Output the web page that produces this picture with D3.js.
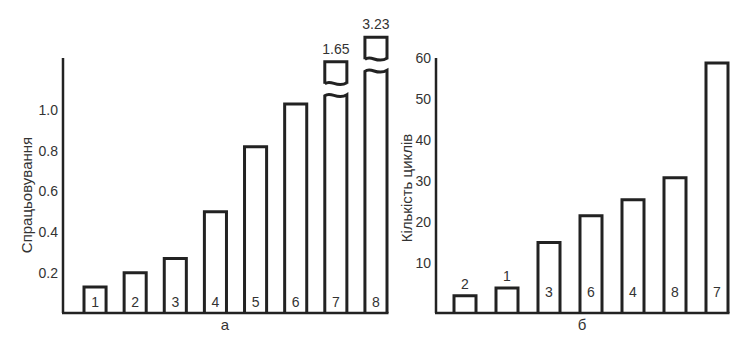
<!DOCTYPE html>
<html>
<head>
<meta charset="utf-8">
<script src="https://cdn.jsdelivr.net/npm/d3@7"></script>
<style>
    body { margin: 0; background: #fff; }
    text { font-family: "Liberation Sans", Arial, sans-serif; fill: #333; }
</style>
</head>
<body>
<svg id="chart" width="751" height="353"></svg>
<script>
"use strict";

// data, chart а
const barsA = ["1", "2", "3", "4", "5", "6", "7", "8"];
const valuesA = [0.13, 0.2, 0.27, 0.5, 0.82, 1.03, 1.65, 3.23];
const breakA = [null, null, null, null, null, null, 1.07, 1.19];   // where broken bars are cut
const ticksA = [0.2, 0.4, 0.6, 0.8, 1.0];

// data, chart б
const barsB = ["2", "1", "3", "6", "4", "8", "7"];
const valuesB = [2, 3.9, 15, 21.5, 25.4, 30.8, 58.8];
const ticksB = [10, 20, 30, 40, 50, 60];



// consts
const baseline = 313,
      axisTop = 58,
      stroke = "#222";

let svg = d3.select("#chart");



// wavy cut line
function wave(x0, x1, y) {
    let w = x1 - x0;
    return `M${x0},${y} C${x0 + w*0.3},${y - 5} ${x0 + w*0.55},${y + 5} ${x1},${y - 1}`;
}



// one panel
function panel(cfg) {
    let g = svg.append("g");

    // scales
    let scaleX = d3.scaleBand()
    .domain(cfg.bars.map((d, i) => i))
    .range(cfg.xRange)
    .paddingInner(cfg.padding)
    .paddingOuter(0);

    let scaleY = d3.scaleLinear()
    .domain(cfg.yDomain)
    .range(cfg.yRange);

    // y axis line
    g.append("line")
    .attr("x1", cfg.axisX).attr("x2", cfg.axisX)
    .attr("y1", axisTop).attr("y2", baseline)
    .attr("stroke", stroke).attr("stroke-width", 2.5);

    // x axis line
    g.append("line")
    .attr("x1", cfg.axisX - 1).attr("x2", cfg.xRange[1] + 1.5)
    .attr("y1", baseline).attr("y2", baseline)
    .attr("stroke", stroke).attr("stroke-width", 2.5);

    // tick labels
    g.selectAll("text.tick")
    .data(cfg.ticks)
    .enter()
    .append("text")
    .attr("class", "tick")
    .attr("x", cfg.axisX - 5)
    .attr("y", d => scaleY(d))
    .attr("dy", "0.35em")
    .attr("text-anchor", "end")
    .attr("font-size", 14)
    .text(d => cfg.format(d));

    // y label
    g.append("text")
    .attr("transform", `translate(${cfg.yLabelX}, ${cfg.yLabelY}) rotate(-90)`)
    .attr("text-anchor", "middle")
    .attr("dy", "0.35em")
    .attr("font-size", 15)
    .text(cfg.yLabel);

    // x label
    g.append("text")
    .attr("x", (cfg.axisX + cfg.xRange[1]) / 2)
    .attr("y", baseline + 17)
    .attr("text-anchor", "middle")
    .attr("font-size", 15)
    .text(cfg.xLabel);

    // bars
    cfg.values.forEach((v, i) => {
        let x0 = scaleX(i),
            x1 = x0 + scaleX.bandwidth(),
            cut = cfg.breaks ? cfg.breaks[i] : null;

        if (cut == null) {
            g.append("path")
            .attr("d", `M${x0},${baseline} L${x0},${scaleY(v)} L${x1},${scaleY(v)} L${x1},${baseline}`)
            .attr("fill", "none").attr("stroke", stroke).attr("stroke-width", 3);
        }
        else {
            // lower piece with wavy top
            let yc = scaleY(cut);
            g.append("path")
            .attr("d", `M${x0},${baseline} L${x0},${yc} ` + wave(x0, x1, yc).replace("M", "L") + ` L${x1},${baseline}`)
            .attr("fill", "none").attr("stroke", stroke).attr("stroke-width", 3);
            // upper cap with wavy bottom
            let capBottom = yc - 12,
                capTop = capBottom - 22;
            g.append("path")
            .attr("d", `M${x0},${capBottom} L${x0},${capTop} L${x1},${capTop} L${x1},${capBottom} `)
            .attr("fill", "none").attr("stroke", stroke).attr("stroke-width", 3);
            g.append("path")
            .attr("d", wave(x0, x1, capBottom))
            .attr("fill", "none").attr("stroke", stroke).attr("stroke-width", 3);
            g.append("text")
            .attr("x", (x0 + x1) / 2)
            .attr("y", capTop - 13)
            .attr("dy", "0.35em")
            .attr("text-anchor", "middle")
            .attr("font-size", 14)
            .text(v.toFixed(2));
        }

        // bar number: inside the bar, above it when the bar is too short
        let top = cut == null ? scaleY(v) : baseline - 100;
        let labelY = top > cfg.insideY - 14 ? top - 12 : cfg.insideY;
        g.append("text")
        .attr("x", (x0 + x1) / 2)
        .attr("y", labelY)
        .attr("dy", "0.35em")
        .attr("text-anchor", "middle")
        .attr("font-size", 14)
        .text(cfg.bars[i]);
    });
}



// panel а
panel({
    bars: barsA,
    values: valuesA,
    breaks: breakA,
    ticks: ticksA,
    format: d3.format(".1f"),
    xRange: [84, 387],
    padding: 0.45,
    axisX: 63,
    yDomain: [0, 1],
    yRange: [313.5, 110],
    insideY: 302,
    yLabel: "Спрацьовування",
    yLabelX: 27,
    yLabelY: 195,
    xLabel: "а"
});



// panel б
panel({
    bars: barsB,
    values: valuesB,
    breaks: null,
    ticks: ticksB,
    format: d3.format("d"),
    xRange: [454, 728],
    padding: 0.476,
    axisX: 436,
    yDomain: [0, 60],
    yRange: [304, 58],
    insideY: 292,
    yLabel: "Кількість циклів",
    yLabelX: 407,
    yLabelY: 188,
    xLabel: "б"
});
</script>
</body>
</html>
